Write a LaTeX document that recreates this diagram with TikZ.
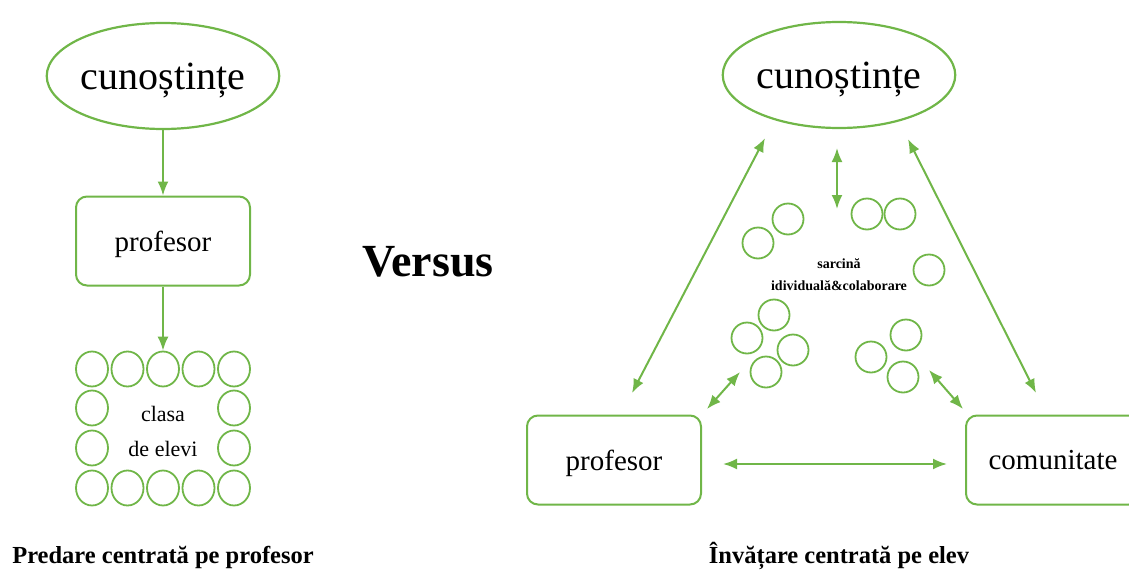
\documentclass[tikz,border=0pt]{standalone}
\usepackage{fontspec}
\setmainfont{Liberation Serif}
\usetikzlibrary{shapes.geometric,arrows.meta}

\definecolor{leaf}{RGB}{112,182,72}

\begin{document}
\begin{tikzpicture}[x=1pt,y=-1pt,
  oval/.style={draw=leaf,line width=2.2pt,ellipse,minimum width=224pt,minimum height=106pt,inner sep=0pt,text depth=0pt,font=\fontsize{40}{44}\selectfont},
  box/.style={draw=leaf,line width=2pt,rounded corners=11pt,minimum width=174pt,minimum height=89pt,inner sep=0pt,text depth=0pt,font=\fontsize{29}{32}\selectfont},
  kid/.style={draw=leaf,line width=1.8pt,ellipse,minimum width=32pt,minimum height=35pt,inner sep=0pt},
  pupil/.style={draw=leaf,line width=1.8pt,circle,minimum size=31pt,inner sep=0pt},
  one/.style={draw=leaf,line width=2pt,-{Latex[length=14pt,width=11pt]}},
  two/.style={draw=leaf,line width=2pt,{Latex[length=14pt,width=11pt]}-{Latex[length=14pt,width=11pt]}}]

  \useasboundingbox (0,0) rectangle (1129,570);

  % predare centrata pe profesor
  \node[oval] (k1) at (163,76) {cunoștințe};
  \node[box] (p1) at (163,241) {profesor};
  \foreach \i in {1,...,5} {
    \node[kid] (t\i) at ({92+35.5*(\i-1)},369) {};
    \node[kid] (b\i) at ({92+35.5*(\i-1)},488) {};
  }
  \node[kid] (l2) at (92,408) {};
  \node[kid] (l3) at (92,448) {};
  \node[kid] (r2) at (234,408) {};
  \node[kid] (r3) at (234,448) {};
  \node[font=\fontsize{22}{24}\selectfont] (cl) at (163,414) {clasa};
  \node[font=\fontsize{22}{24}\selectfont] (de) at (163,449) {de elevi};

  \draw[one] (k1.south) -- (p1.north);
  \draw[one] (p1.south) -- (t3.north);

  \node[font=\bfseries\fontsize{46}{50}\selectfont] (vs) at (428,262) {Versus};

  % invatare centrata pe elev
  \node[oval] (k2) at (839,75) {cunoștințe};
  \node[box] (p2) at (614,460) {profesor};
  \node[box] (cm) at (1053,460) {comunitate};

  \node[pupil] (g1) at (758,243) {};
  \node[pupil] (g2) at (788,219) {};
  \node[pupil] (g3) at (867,214) {};
  \node[pupil] (g4) at (900,214) {};
  \node[pupil] (g5) at (929,270) {};
  \node[pupil] (g6) at (774,315) {};
  \node[pupil] (g7) at (747,338) {};
  \node[pupil] (g8) at (793,350) {};
  \node[pupil] (g9) at (766,372) {};
  \node[pupil] (g10) at (906,335) {};
  \node[pupil] (g11) at (871,357) {};
  \node[pupil] (g12) at (903,377) {};

  \node[font=\bfseries\fontsize{14}{22}\selectfont,align=center] (task) at (839,275) {sarcină\\idividuală\&colaborare};

  \coordinate (a1) at (632,393);
  \coordinate (a2) at (765,138);
  \coordinate (b1) at (1036,393);
  \coordinate (b2) at (908,139);
  \coordinate (c1) at (837,148);
  \coordinate (c2) at (837,209);
  \coordinate (d1) at (707,409);
  \coordinate (d2) at (740,372);
  \coordinate (e1) at (963,409);
  \coordinate (e2) at (929,370);

  \draw[two] (a1) -- (a2);
  \draw[two] (b1) -- (b2);
  \draw[two] (c1) -- (c2);
  \draw[two] (d1) -- (d2);
  \draw[two] (e1) -- (e2);
  \draw[two] ([xshift=21pt,yshift=-4pt]p2.east) -- ([xshift=-18pt,yshift=-4pt]cm.west);

  \node[font=\bfseries\fontsize{24.5}{26}\selectfont,anchor=base] (cap1) at (163,563) {Predare centrată pe profesor};
  \node[font=\bfseries\fontsize{24.5}{26}\selectfont,anchor=base] (cap2) at (839,563) {Învățare centrată pe elev};

\end{tikzpicture}
\end{document}
